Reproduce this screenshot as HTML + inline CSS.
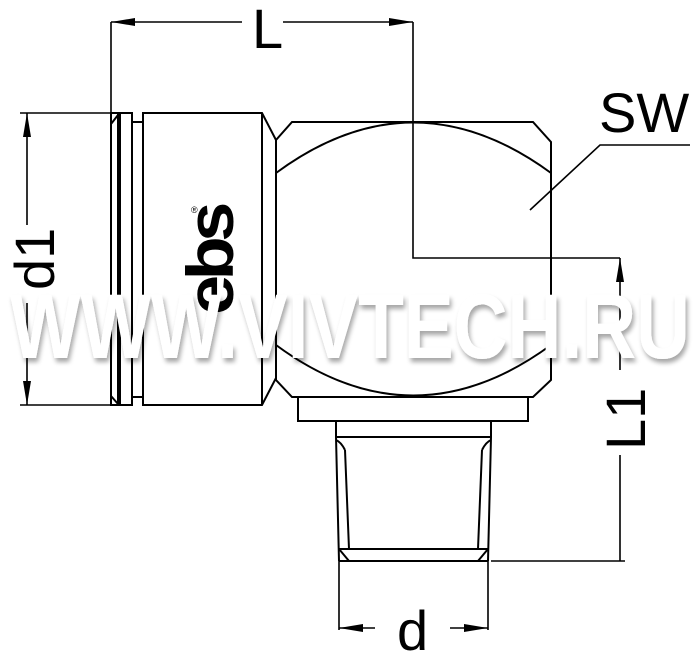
<!DOCTYPE html>
<html><head><meta charset="utf-8"><style>html,body{margin:0;padding:0;background:#fff;width:700px;height:658px;overflow:hidden}</style></head>
<body>
<svg width="700" height="658" viewBox="0 0 700 658" xmlns="http://www.w3.org/2000/svg">
<defs>
<filter id="sh" x="-5%" y="-20%" width="110%" height="150%">
<feGaussianBlur in="SourceAlpha" stdDeviation="2.5"/>
<feOffset dx="2" dy="4" result="b"/>
<feComponentTransfer><feFuncA type="linear" slope="0.35"/></feComponentTransfer>
<feMerge><feMergeNode/><feMergeNode in="SourceGraphic"/></feMerge>
</filter>
</defs>
<g fill="none" stroke="#000" stroke-width="2">
<path d="M111 113 H132 V405 H111 Z"/>
<path d="M118 113 V405 M111 124 L118 115 M111 396 L118 404 M120 113 V405"/>
<path d="M132 122 H143 M132 397 H143"/>
<path d="M143 113 H262 L276 140 V378 L262 405 H143 Z"/>
<path d="M262 113 V405"/>
<path d="M276 140 L292 122 H533 L551 142 V380 L533 397 H292 L276 380 Z"/>
<path d="M276 173 Q413 72 551 173"/>
<path d="M276 345 Q413 446 551 345"/>
<path d="M298 397 V421 H528 V397"/>
<path d="M336 421 V437 M491 421 V437 M336 437 H491"/>
<path d="M336 437 L339 561 M491 437 L488 561"/>
<path d="M345 450 Q341 442 336 440 M345 450 L349 549 M482 450 Q486 442 491 440 M482 450 L478 549"/>
<path d="M339 549 H488 M349 561 H478 M339 549 L349 561 M488 549 L478 561 M339 561 H488"/>
</g>
<g fill="none" stroke="#000" stroke-width="1.6">
<path d="M111 22 V113 M413 22 V258 H620 M111 22 H242 M283 22 H413"/>
<path d="M20 113 H111 M20 405 H111 M27 113 V225 M27 303 V405"/>
<path d="M620 258 V370 M620 455 V561 M491 561 H625"/>
<path d="M339 561 V630 M488 561 V630 M339 628 H375 M450 628 H488"/>
<path d="M530 210 L600 145 H690"/>
</g>
<g fill="#000">
<path d="M111 22 L135 18 L135 26 Z"/><path d="M413 22 L389 18 L389 26 Z"/>
<path d="M27 113 L23 137 L31 137 Z"/><path d="M27 405 L23 381 L31 381 Z"/>
<path d="M620 258 L616 282 L624 282 Z"/>
<path d="M339 628 L363 624 L363 632 Z"/><path d="M488 628 L464 624 L464 632 Z"/>
</g>
<g font-family="Liberation Sans, sans-serif" fill="#000">
<text x="252" y="48" font-size="56">L</text>
<text x="599" y="132" font-size="56">SW</text>
<text x="397" y="650" font-size="56">d</text>
<text transform="translate(54 290) rotate(-90)" font-size="56">d1</text>
<text transform="translate(645 450) rotate(-90)" font-size="56">L1</text>
<text transform="translate(233 315) rotate(-90)" font-size="66" font-weight="bold" letter-spacing="-5" textLength="108" lengthAdjust="spacingAndGlyphs">ebs</text>
<text x="191" y="213" font-size="9">®</text>
</g>
<text x="10" y="358" font-family="Liberation Sans, sans-serif" font-weight="bold" font-size="92" fill="#fff" textLength="680" lengthAdjust="spacingAndGlyphs" filter="url(#sh)">WWW.VIVTECH.RU</text>
</svg>
</body></html>
